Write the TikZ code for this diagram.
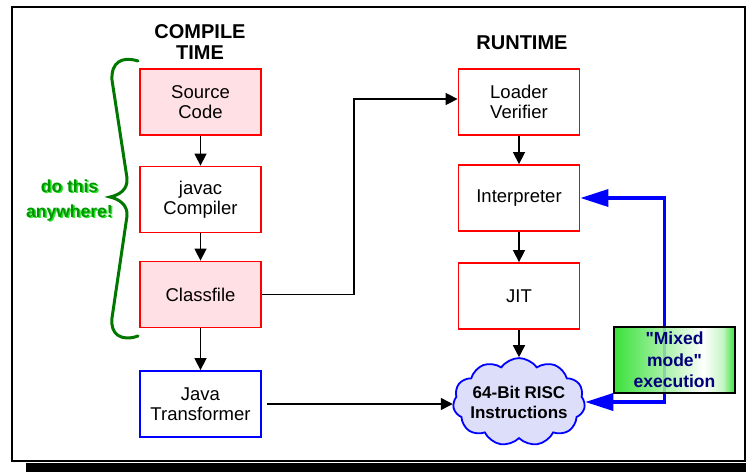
\documentclass[tikz,border=0pt]{standalone}
\usepackage{fontspec}
\setmainfont{Liberation Sans}
\newfontfamily\quotefont{Liberation Sans}
\usetikzlibrary{arrows.meta,shapes.symbols}

\definecolor{boxpink}{RGB}{255,224,228}
\definecolor{cloudblue}{RGB}{220,222,250}
\definecolor{bracegreen}{RGB}{0,120,0}
\definecolor{textgreen}{RGB}{0,150,0}
\definecolor{shadowgreen}{RGB}{40,230,40}
\definecolor{mixgreen}{RGB}{30,220,30}
\definecolor{mixnavy}{RGB}{0,0,120}
\pgfdeclarehorizontalshading{mixshade}{100bp}{color(0bp)=(mixgreen); color(25bp)=(mixgreen); color(62bp)=(white); color(70bp)=(white!70!mixgreen); color(75bp)=(mixgreen); color(100bp)=(mixgreen)}

\begin{document}
\begin{tikzpicture}[x=1pt, y=-1pt, line width=1.5pt,
    stage/.style={draw=red, line width=1.8pt, minimum width=121pt, minimum height=66pt,
        inner sep=0pt, align=center, font=\fontsize{18.5}{20}\selectfont},
    title/.style={align=center, font=\bfseries\fontsize{20}{21}\selectfont},
    flow/.style={-{Triangle[length=12pt,width=12pt]}},
    mode/.style={blue, line width=3.5pt,
        {Triangle[length=28pt,width=17pt]}-{Triangle[length=28pt,width=17pt]}}]

\useasboundingbox (0,0) rectangle (746,472);
\draw[line width=2pt] (12,7) rectangle (745,461);
\fill (26,463) rectangle (746,472);

% compile time
\node[title] (compile) at (200,42) {COMPILE\\TIME};
\node[stage, fill=boxpink] (src) at (200.5,102) {Source\\Code};
\node[stage] (javac) at (200.5,199.5) {javac\\Compiler};
\node[stage, fill=boxpink] (cls) at (200.5,294.5) {Classfile};
\node[stage, draw=blue] (jt) at (200.5,404) {Java\\Transformer};

% runtime
\node[title] (runtime) at (522,43) {RUNTIME};
\node[stage] (loader) at (519,102) {Loader\\Verifier};
\node[stage] (interp) at (519,198) {Interpreter};
\node[stage] (jit) at (519,296) {JIT};
\node[cloud, cloud puffs=11, cloud puff arc=110, aspect=1.65, draw=blue, fill=cloudblue,
    line width=1.8pt, inner sep=-6pt, minimum width=132pt, minimum height=80pt,
    align=center, font=\bfseries\fontsize{17}{20}\selectfont] (risc) at (519,402)
    {64-Bit RISC\\Instructions};

\draw[flow] (src) -- (javac);
\draw[flow] (javac) -- (cls);
\draw[flow] (cls) -- (jt);
\draw[flow] (cls.east) -- ++(92,0) |- ([yshift=3pt]loader.west);
\draw[flow] ([xshift=5pt]jt.east) -- (jt.east -| risc.west);
\draw[flow] (loader) -- (interp);
\draw[flow] (interp) -- (jit);
\draw[flow] (jit) -- (risc);

\draw[mode] (interp.east) -- ++(84,0) |- (risc.east);
\node[draw=black, line width=2pt, shading=mixshade, fill opacity=0.88, text opacity=1,
    minimum width=121pt, minimum height=66pt, inner sep=0pt, align=center, text=mixnavy,
    font=\quotefont\bfseries\fontsize{17.5}{21.5}\selectfont] (mixed) at (674.5,360)
    {"Mixed\\mode"\\execution};

% brace
\draw[bracegreen, line width=3pt, line cap=round]
    (138,61) .. controls (122,56) and (111,62) .. (112,80) -- (127,178)
    .. controls (128,190) and (119,195) .. (110,197)
    .. controls (119,199) and (128,205) .. (127,216) -- (112,318)
    .. controls (110,334) and (121,342) .. (138,336);
\node[align=center, text=shadowgreen, font=\bfseries\fontsize{17.5}{25}\selectfont]
    (doshadow) at (71,201.5) {do this\\anywhere!};
\node[align=center, text=textgreen, font=\bfseries\fontsize{17.5}{25}\selectfont]
    (dothis) at (69.5,200.5) {do this\\anywhere!};
\end{tikzpicture}
\end{document}
